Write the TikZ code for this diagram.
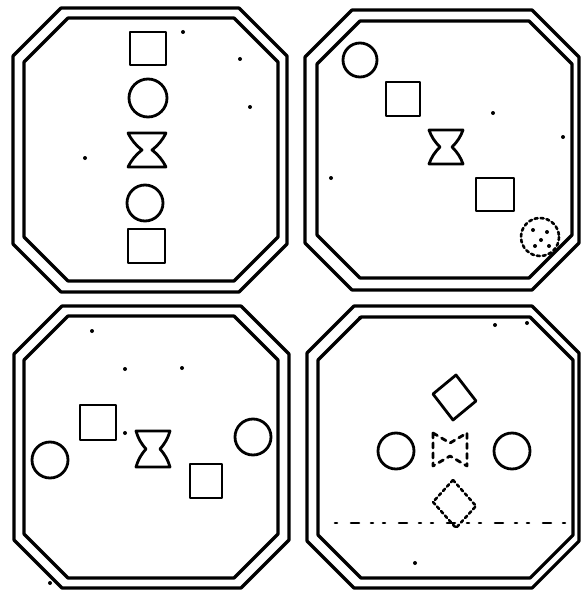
\documentclass[tikz,border=0pt]{standalone}
% octagon: left, top, right, bottom, cut
\newcommand\octa[5]{\draw[frame] ({#1+#5},#2) -- ({#3-#5},#2) -- (#3,{#2+#5}) -- (#3,{#4-#5}) -- ({#3-#5},#4) -- ({#1+#5},#4) -- (#1,{#4-#5}) -- (#1,{#2+#5}) -- cycle;}
% hourglass: cx, cy, half width, half height, waist half width
\newcommand\hglass[5]{\draw[shp] ({#1-#3},{#2-#4}) -- ({#1+#3},{#2-#4}) to[bend left=12] ({#1+#5},#2) to[bend left=12] ({#1+#3},{#2+#4}) -- ({#1-#3},{#2+#4}) to[bend left=12] ({#1-#5},#2) to[bend left=12] cycle;}
\newcommand\speckat[2]{\fill[speck] (#1,#2) circle (2pt);}
\begin{document}
\begin{tikzpicture}[x=1pt,y=-1pt,line join=round,line cap=round,
  frame/.style={draw=black,line width=3.2pt},
  shp/.style={draw=black,line width=2.8pt},
  faded/.style={draw=black,line width=2.8pt,dash pattern=on 5pt off 5pt},
  dotty/.style={draw=black,line width=2.6pt,dash pattern=on 3pt off 3pt},
  speck/.style={fill=black}]
\useasboundingbox (0,0) rectangle (581,594);
\fill[white] (0,0) rectangle (581,594);

% ---------- panel 1 (top left) ----------
\octa{13}{8}{287}{292}{48}
\octa{24}{18}{278}{281}{44}
\draw[shp] (130,32) rectangle (166,65);
\draw[shp] (148,98) circle (19);
\hglass{147}{150}{19}{17}{5}
\draw[shp] (145,203) circle (18);
\draw[shp] (128,229) rectangle (165,263);
\speckat{240}{59}\speckat{250}{107}\speckat{85}{158}\speckat{183}{32}

% ---------- panel 2 (top right) ----------
\octa{305}{10}{579}{290}{47}
\octa{317}{21}{572}{278}{43}
\draw[shp] (360,60) circle (17);
\draw[shp] (386,82) rectangle (420,116);
\hglass{446}{147}{17}{17}{6}
\draw[shp] (476,178) rectangle (514,211);
\draw[dotty] (540,237) circle (19);
\speckat{533}{230}\speckat{541}{240}\speckat{547}{232}\speckat{535}{246}\speckat{549}{246}
\speckat{493}{113}\speckat{563}{137}\speckat{331}{178}

% ---------- panel 3 (bottom left) ----------
\octa{14}{306}{289}{588}{48}
\octa{24}{316}{278}{578}{44}
\draw[shp] (50,460) circle (18);
\draw[shp] (80,405) rectangle (116,440);
\hglass{153}{449}{17}{18}{7}
\draw[shp] (190,464) rectangle (222,498);
\draw[shp] (253,437) circle (18);
\speckat{92}{331}\speckat{182}{368}\speckat{125}{369}\speckat{50}{583}\speckat{125}{433}

% ---------- panel 4 (bottom right) ----------
\octa{307}{306}{579}{588}{47}
\octa{318}{317}{573}{578}{43}
\draw[shp] (456,375) -- (476,401) -- (453,420) -- (433,394) -- cycle;
\draw[shp] (396,451) circle (18);
\draw[shp] (512,451) circle (18);
\draw[faded] (433,433) -- (450,443) -- (467,433) -- (467,466) -- (450,456) -- (433,466) -- cycle;
\draw[dotty] (453,480) -- (476,506) -- (456,528) -- (433,502) -- cycle;
\draw[black,line width=2.6pt,dash pattern=on 2pt off 14pt on 8pt off 12pt on 2pt off 10pt] (335,523) -- (570,523);
\speckat{415}{563}\speckat{360}{318}\speckat{527}{323}\speckat{495}{325}
\end{tikzpicture}
\end{document}
